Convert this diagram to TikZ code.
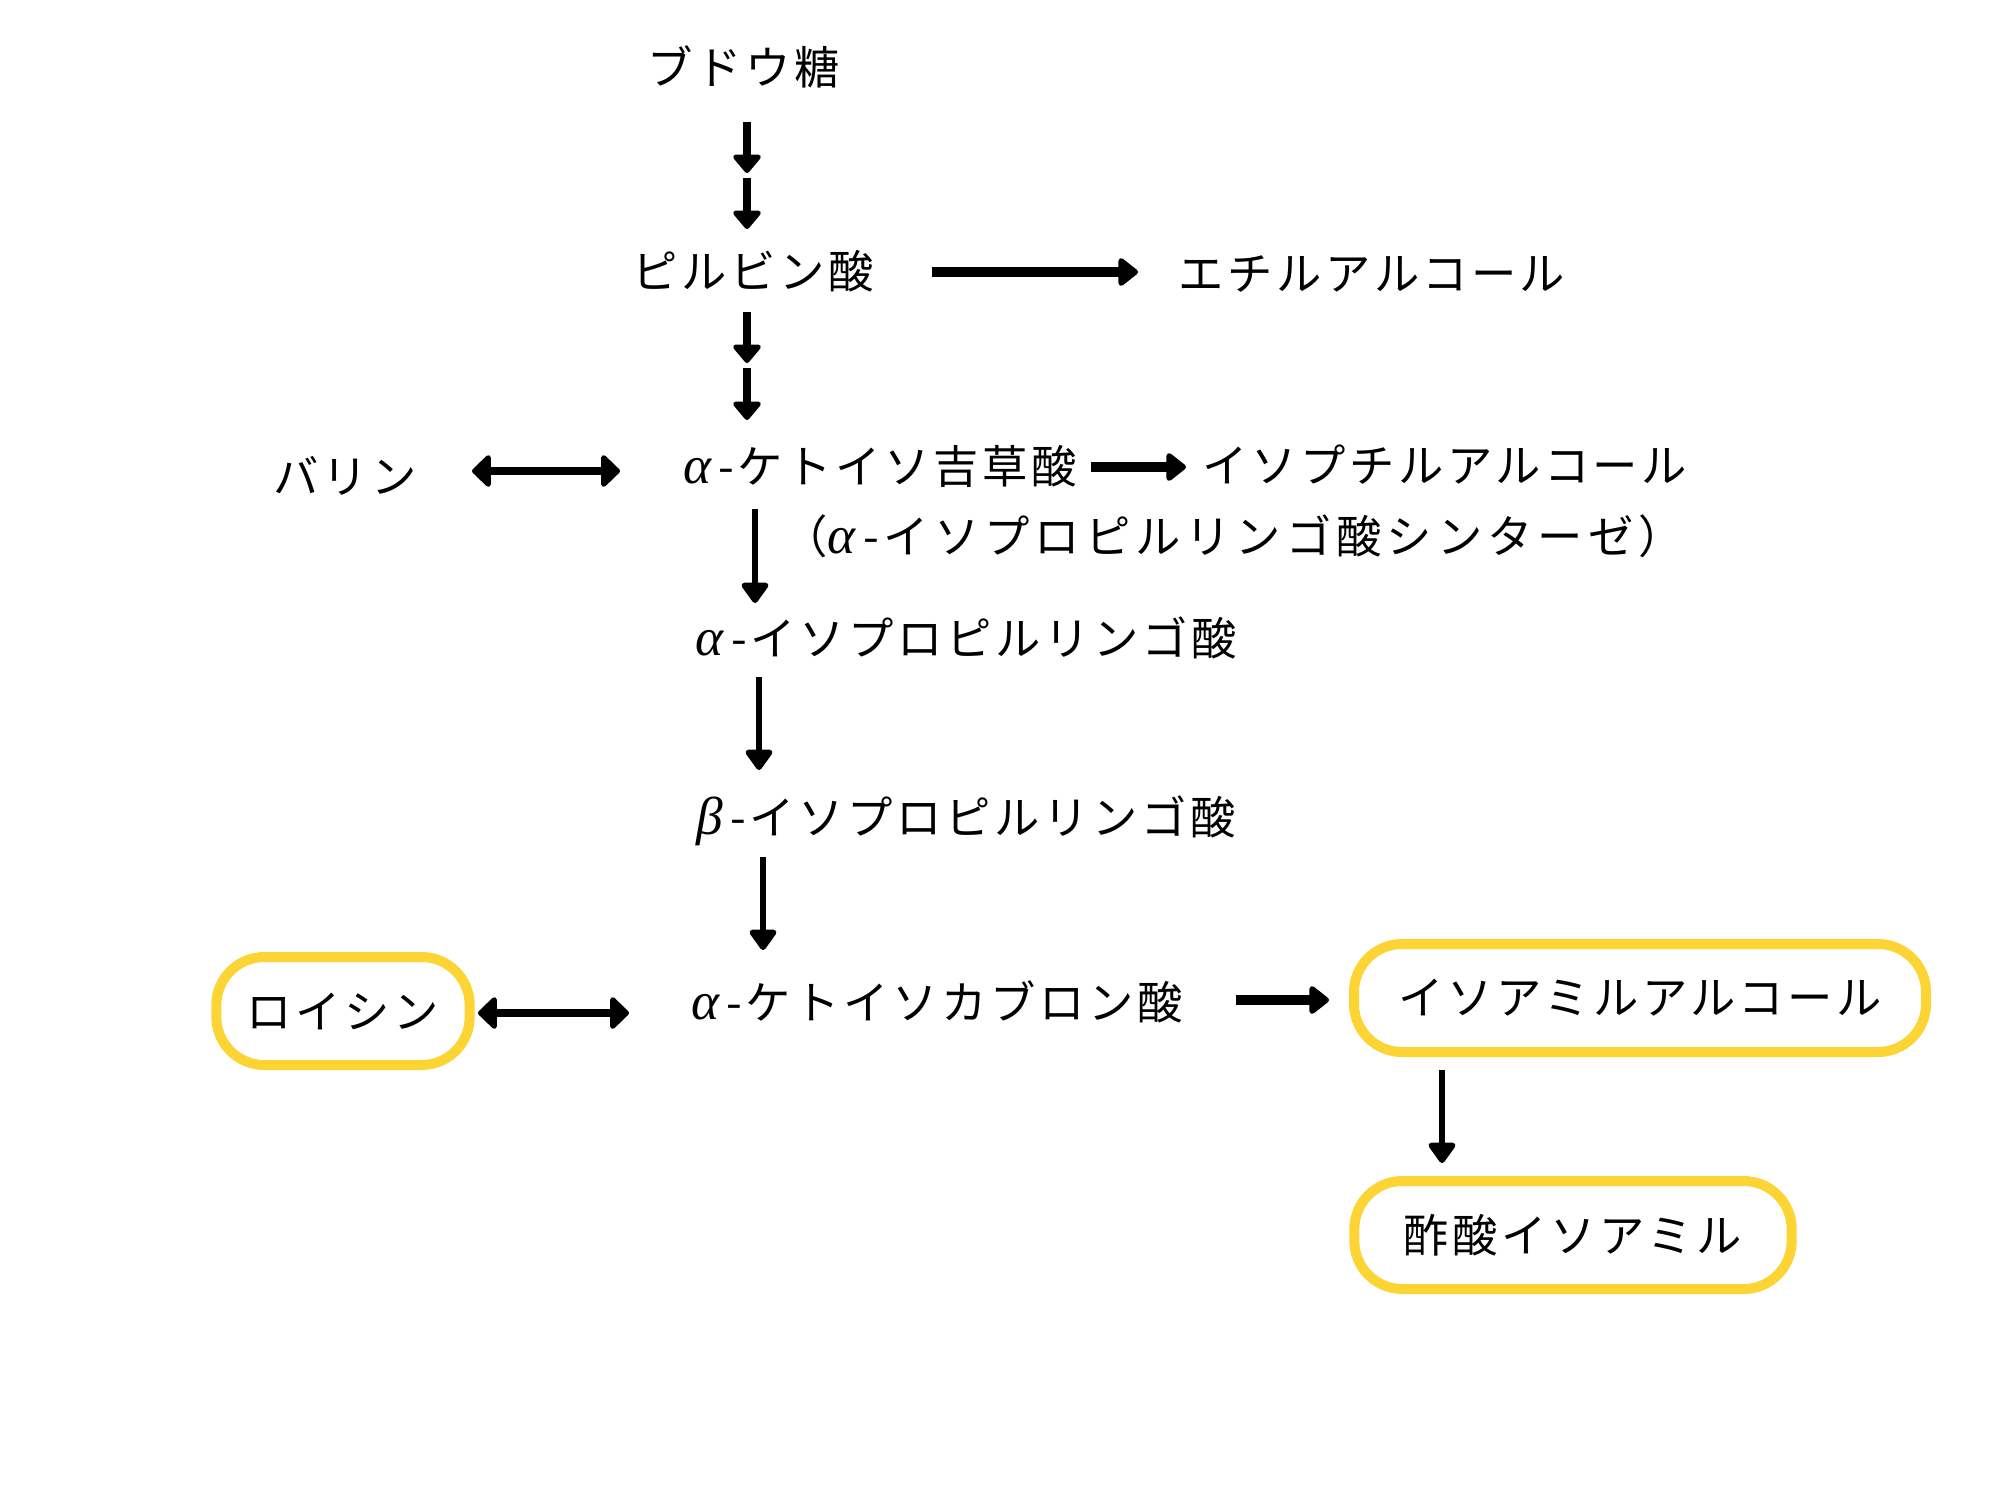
\documentclass[tikz,border=0pt]{standalone}
\usepackage{fontspec}
\setmainfont[LetterSpace=8]{Noto Sans CJK JP}
\newfontfamily\grk{Liberation Serif}
\usetikzlibrary{arrows.meta}
\definecolor{boxyellow}{RGB}{252,213,53}
\tikzset{
  lbl/.style={font=\fontsize{34pt}{40pt}\selectfont, inner sep=0pt, anchor=center},
  hl/.style={lbl, draw=boxyellow, line width=7.5pt, rounded corners=36pt, minimum width=#1, minimum height=81pt},
  sarr/.style={line width=6pt, -{Triangle[length=15pt,width=24pt,round]}},
  harr/.style={line width=7pt, -{Triangle[length=16pt,width=24pt,round]}},
  varr/.style={line width=4.5pt, -{Triangle[length=17pt,width=23pt,round]}},
  darr/.style={line width=6.5pt, {Triangle[length=15pt,width=28pt,round]}-{Triangle[length=15pt,width=28pt,round]}}
}
\newcommand{\al}{{\fontsize{40pt}{40pt}\grk\itshape α}\,-}
\newcommand{\be}{{\fontsize{40pt}{40pt}\grk\itshape β}\,-}
\begin{document}
\begin{tikzpicture}[x=0.75pt,y=-0.75pt]
\useasboundingbox[fill=white] (0,0) rectangle (2000,1500);
% nodes
\node[lbl] (glc) at (744,67) {ブドウ糖};
\node[lbl] (pyr) at (753,271) {ピルビン酸};
\node[lbl] (eth) at (1372,274) {エチルアルコール};
\node[lbl] (val) at (345,476) {バリン};
\node[lbl] (kiv) at (880,466) {\al ケトイソ吉草酸};
\node[lbl] (ibu) at (1445,465) {イソプチルアルコール};
\node[lbl] (enz) at (1233,536) {\addfontfeature{LetterSpace=11}（\al イソプロピルリンゴ酸シンターゼ）};
\node[lbl] (aipm) at (966,638) {\al イソプロピルリンゴ酸};
\node[lbl] (bipm) at (966,821) {\be イソプロピルリンゴ酸};
\node[lbl] (kic) at (937,1002) {\al ケトイソカブロン酸};
\node[hl=190pt] (leu) at (343,1011) {ロイシン};
\node[hl=429pt] (iaa) at (1640,998) {イソアミルアルコール};
\node[hl=328pt] (iaac) at (1573,1235) {酢酸イソアミル};
% arrow end points
\coordinate (a1s) at (747,122); \coordinate (a1e) at (747,173);
\coordinate (a2s) at (747,178); \coordinate (a2e) at (747,229);
\coordinate (a3s) at (747,312); \coordinate (a3e) at (747,363);
\coordinate (a4s) at (747,368); \coordinate (a4e) at (747,420);
\coordinate (b1s) at (932,272); \coordinate (b1e) at (1138,272);
\coordinate (b2s) at (472,471); \coordinate (b2e) at (620,471);
\coordinate (b3s) at (1091,467); \coordinate (b3e) at (1186,467);
\coordinate (c1s) at (755,509); \coordinate (c1e) at (755,603);
\coordinate (c2s) at (759,677); \coordinate (c2e) at (759,770);
\coordinate (c3s) at (763,857); \coordinate (c3e) at (763,950);
\coordinate (d1s) at (478,1013); \coordinate (d1e) at (629,1013);
\coordinate (d2s) at (1236,1000); \coordinate (d2e) at (1329,1000);
\coordinate (d3s) at (1442,1070); \coordinate (d3e) at (1442,1163);
% arrows
\draw[sarr] (a1s) -- (a1e);
\draw[sarr] (a2s) -- (a2e);
\draw[sarr] (a3s) -- (a3e);
\draw[sarr] (a4s) -- (a4e);
\draw[harr] (b1s) -- (b1e);
\draw[darr] (b2s) -- (b2e);
\draw[harr] (b3s) -- (b3e);
\draw[varr] (c1s) -- (c1e);
\draw[varr] (c2s) -- (c2e);
\draw[varr] (c3s) -- (c3e);
\draw[darr] (d1s) -- (d1e);
\draw[harr] (d2s) -- (d2e);
\draw[varr] (d3s) -- (d3e);
\end{tikzpicture}
\end{document}
